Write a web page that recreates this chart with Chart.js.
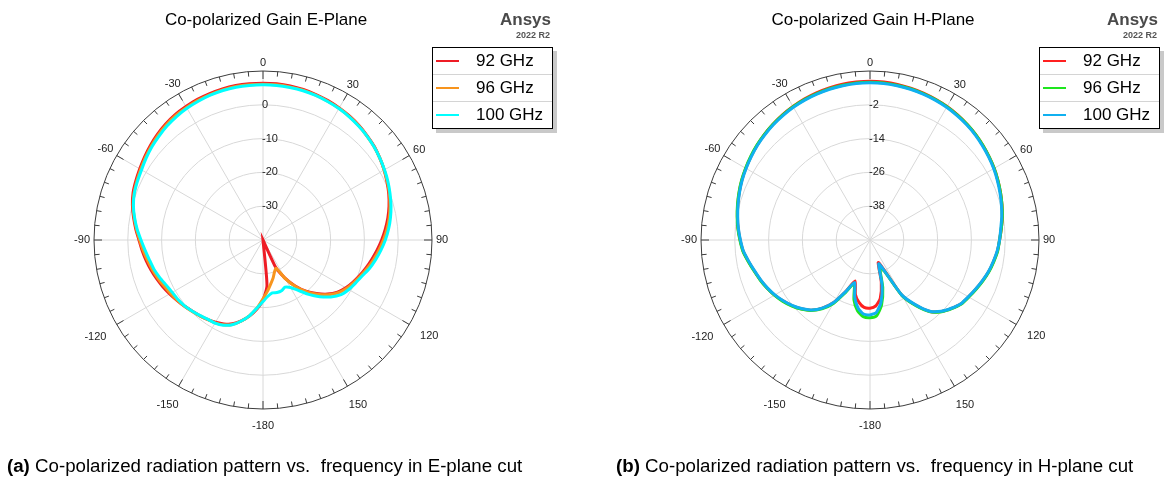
<!DOCTYPE html>
<html>
<head>
<meta charset="utf-8">
<title>Co-polarized Gain</title>
<script src="https://cdn.jsdelivr.net/npm/chart.js@4.4.1/dist/chart.umd.min.js"></script>
<style>
  html, body { margin: 0; padding: 0; background: #fff; }
  body { width: 1165px; height: 479px; position: relative; overflow: hidden;
         font-family: "Liberation Sans", Arial, sans-serif; color: #000; }
  .abs { position: absolute; white-space: pre; }
  .title { font-size: 17px; line-height: 17px; transform: translateX(-50%); }
  .brand { font-size: 17px; line-height: 17px; font-weight: bold; color: #4a4a4a; text-align: right; }
  .release { font-size: 9px; line-height: 9px; font-weight: bold; color: #555; text-align: right; }
  .legend { background: #fff; border: 1px solid #000; box-shadow: 4px 4px 0 #c9c9c9; width: 119px; }
  .legend .row { height: 26px; position: relative; font-size: 17px; line-height: 26px; }
  .legend .row + .row { border-top: 1px solid #d4d4d4; }
  .legend .swatch { position: absolute; left: 3px; top: 12px; width: 23px; height: 2px; }
  .legend .name { position: absolute; left: 43px; top: 0; }
  .caption { font-size: 18.7px; line-height: 19px; }
  canvas { position: absolute; }
</style>
</head>
<body>

<canvas id="chartE" width="440" height="440" style="left:43px;top:20px"></canvas>
<canvas id="chartH" width="440" height="440" style="left:650px;top:20px"></canvas>

<div class="abs title" style="left:266px;top:11px">Co-polarized Gain E-Plane</div>
<div class="abs brand" style="right:614px;top:11px">Ansys</div>
<div class="abs release" style="right:615px;top:31px">2022 R2</div>
<div class="abs legend" id="legendE" style="left:432px;top:47px"></div>

<div class="abs title" style="left:873px;top:11px">Co-polarized Gain H-Plane</div>
<div class="abs brand" style="right:7px;top:11px">Ansys</div>
<div class="abs release" style="right:8px;top:31px">2022 R2</div>
<div class="abs legend" id="legendH" style="left:1039px;top:47px"></div>

<div class="abs caption" style="left:7px;top:456px"><b>(a)</b> Co-polarized radiation pattern vs.  frequency in E-plane cut</div>
<div class="abs caption" style="left:616px;top:456px"><b>(b)</b> Co-polarized radiation pattern vs.  frequency in H-plane cut</div>

<script>
// Theta in degrees, clockwise from broadside, 5 degree steps
const ANGLES = [
  0, 5, 10, 15, 20, 25, 30, 35, 40, 45, 50, 55, 60, 65, 70, 75, 80, 85,
  90, 95, 100, 105, 110, 115, 120, 125, 130, 135, 140, 145, 150, 155, 160, 165, 170, 175,
  -180, -175, -170, -165, -160, -155, -150, -145, -140, -135, -130, -125, -120, -115, -110, -105, -100, -95,
  -90, -85, -80, -75, -70, -65, -60, -55, -50, -45, -40, -35, -30, -25, -20, -15, -10, -5
];
const ANGLE_LABELS = [0, 30, 60, 90, 120, 150, -180, -150, -120, -90, -60, -30];

const FREQS = ['92 GHz', '96 GHz', '100 GHz'];

// Ring values (dB) for each cut
const E_RINGS = [-40, -30, -20, -10, 0, 10];
const H_RINGS = [-50, -38, -26, -14, -2, 10];

// E-plane gain (dB), one value per entry of ANGLES
const E_92 = [
  6.4, 6.4, 6.3, 6.1, 5.8, 5.5, 5.1, 4.7, 4.2, 3.6, 3.0, 2.2, 1.4, 0.5, -0.4, -1.4, -2.5, -3.7,
  -4.9, -6.1, -7.3, -8.4, -9.5, -10.6, -11.7, -13.1, -15.1, -17.6, -20.2, -23.4, -27.0, -31.0, -40.0, -40.0, -40.0, -26.5,
  -22.2, -19.5, -17.2, -15.2, -13.6, -12.6, -11.9, -11.3, -10.8, -10.3, -9.6, -8.9, -8.1, -7.3, -6.5, -5.7, -4.9, -4.1,
  -3.3, -2.2, -1.1, 0.0, 0.9, 1.5, 2.1, 2.8, 3.5, 4.2, 4.8, 5.3, 5.6, 5.9, 6.1, 6.3, 6.4, 6.4
];
const E_96 = [
  6.1, 6.1, 6.0, 5.9, 5.6, 5.3, 5.0, 4.6, 4.1, 3.5, 2.9, 2.2, 1.4, 0.6, -0.2, -1.1, -2.1, -3.2,
  -4.4, -5.6, -6.8, -8.0, -9.2, -10.3, -11.4, -12.8, -14.8, -17.3, -20.0, -23.2, -26.8, -30.8, -30.0, -28.4, -26.8, -24.8,
  -22.6, -19.8, -17.3, -15.2, -13.4, -12.3, -11.7, -11.3, -10.8, -10.2, -9.6, -9.0, -8.4, -7.7, -6.9, -6.1, -5.3, -4.4,
  -3.5, -2.4, -1.3, -0.2, 0.6, 1.2, 1.8, 2.5, 3.2, 3.9, 4.5, 5.0, 5.3, 5.6, 5.8, 6.0, 6.1, 6.1
];
const E_100 = [
  5.9, 5.9, 5.8, 5.7, 5.5, 5.2, 4.9, 4.5, 4.0, 3.5, 2.9, 2.2, 1.5, 0.8, 0.0, -0.8, -1.7, -2.7,
  -3.8, -5.0, -6.2, -7.4, -8.8, -9.8, -10.7, -11.8, -13.8, -16.3, -19.0, -21.8, -23.8, -24.6, -24.0, -23.9, -24.1, -23.3,
  -21.8, -19.8, -17.3, -15.2, -13.3, -12.2, -11.6, -11.4, -10.9, -10.3, -9.7, -9.3, -9.0, -8.4, -7.5, -6.6, -5.9, -5.0,
  -3.9, -2.6, -1.4, -0.3, 0.5, 1.0, 1.5, 2.2, 2.9, 3.5, 4.1, 4.6, 5.0, 5.3, 5.6, 5.8, 5.9, 5.9
];

// H-plane gain (dB)
const H_92 = [
  6.4, 6.3, 6.1, 5.8, 5.5, 5.1, 4.7, 4.2, 3.6, 3.0, 2.3, 1.6, 0.9, 0.1, -0.7, -1.5, -2.3, -3.2,
  -4.0, -4.6, -5.5, -6.4, -7.5, -8.6, -9.6, -10.5, -12.2, -14.1, -16.9, -21.8, -27.5, -38.5, -41.5, -34.5, -29.0, -26.5,
  -25.8, -26.0, -27.5, -30.0, -34.5, -30.0, -24.5, -20.5, -17.5, -15.5, -13.8, -12.3, -10.9, -9.7, -8.6, -7.5, -6.2, -4.8,
  -3.9, -3.0, -2.2, -1.4, -0.6, 0.2, 0.9, 1.6, 2.3, 3.0, 3.6, 4.2, 4.7, 5.2, 5.6, 5.9, 6.2, 6.3
];
const H_96 = [
  6.0, 6.0, 5.8, 5.6, 5.3, 5.0, 4.6, 4.1, 3.6, 3.0, 2.3, 1.6, 0.9, 0.1, -0.7, -1.5, -2.3, -3.2,
  -4.0, -4.5, -5.4, -6.3, -7.4, -8.5, -9.5, -10.4, -12.1, -14.0, -16.7, -21.5, -27.0, -37.5, -40.0, -32.5, -26.5, -23.0,
  -22.4, -22.7, -24.5, -28.0, -33.5, -29.5, -24.0, -20.2, -17.3, -15.3, -13.6, -12.1, -10.8, -9.6, -8.5, -7.4, -6.1, -4.7,
  -3.8, -2.9, -2.1, -1.3, -0.5, 0.3, 1.0, 1.7, 2.4, 3.0, 3.6, 4.1, 4.6, 5.0, 5.3, 5.6, 5.8, 6.0
];
const H_100 = [
  5.8, 5.8, 5.6, 5.4, 5.1, 4.8, 4.4, 3.9, 3.4, 2.8, 2.1, 1.4, 0.7, -0.1, -0.9, -1.7, -2.5, -3.4,
  -4.0, -4.7, -5.6, -6.5, -7.6, -8.7, -9.7, -10.6, -12.3, -14.2, -17.0, -22.0, -27.5, -38.0, -41.0, -33.5, -27.5, -24.2,
  -23.4, -23.6, -25.5, -29.0, -34.0, -30.0, -24.5, -20.5, -17.6, -15.6, -13.9, -12.4, -11.0, -9.8, -8.7, -7.6, -6.3, -4.9,
  -4.0, -3.1, -2.3, -1.5, -0.7, 0.1, 0.8, 1.5, 2.2, 2.8, 3.4, 3.9, 4.4, 4.8, 5.1, 5.4, 5.6, 5.8
];

const E_COLORS = ['#ee1c25', '#f7941d', '#00ffff'];
const H_COLORS = ['#ff2020', '#1ee61e', '#10b0f0'];

const GRID_COLOR = '#d8d8d8';
const DIAL_COLOR = '#3c3c3c';
const LABEL_FONT = '11px "Liberation Sans", Arial, sans-serif';

// Outer dial, 5 degree ticks, angle labels and ring values
const polarDial = {
  id: 'polarDial',
  beforeDatasetsDraw(chart) {
    const s = chart.scales.r;
    const ctx = chart.ctx;
    const R = s.drawingArea;
    const rings = chart.options.plugins.polarDial.rings;

    ctx.save();
    ctx.strokeStyle = DIAL_COLOR;
    ctx.lineWidth = 1;
    ctx.beginPath();
    ctx.arc(s.xCenter, s.yCenter, R, 0, Math.PI * 2);
    ctx.stroke();

    ANGLES.forEach((a, i) => {
      const len = a % 30 === 0 ? 8 : 5;
      const p1 = s.getPointPosition(i, R);
      const p2 = s.getPointPosition(i, R - len);
      ctx.beginPath();
      ctx.moveTo(p1.x, p1.y);
      ctx.lineTo(p2.x, p2.y);
      ctx.stroke();
    });

    // angle labels sit just outside the dial; the lower half hangs a bit further out
    ctx.font = LABEL_FONT;
    ctx.fillStyle = '#222';
    ctx.textAlign = 'center';
    ctx.textBaseline = 'middle';
    ANGLES.forEach((a, i) => {
      if (!ANGLE_LABELS.includes(a)) return;
      const t = a * Math.PI / 180;
      const w = ctx.measureText(String(a)).width;
      const lower = Math.abs(a) > 90;
      const d = R + 4 + (w / 2) * Math.abs(Math.sin(t)) + 4 * Math.abs(Math.cos(t)) + (lower ? 9 : 0);
      const p = s.getPointPosition(i, d);
      ctx.fillText(String(a), p.x, p.y);
    });

    ctx.textAlign = 'left';
    rings.slice(1, -1).forEach(v => {
      const y = s.yCenter - s.getDistanceFromCenterForValue(v);
      ctx.fillText(String(v), s.xCenter - 1, y);
    });
    ctx.restore();
  }
};

function buildLegend(el, colors) {
  FREQS.forEach((f, i) => {
    const row = document.createElement('div');
    row.className = 'row';
    row.innerHTML = '<span class="swatch" style="background:' + colors[i] + '"></span><span class="name">' + f + '</span>';
    el.appendChild(row);
  });
}

function renderPolar(canvasId, rings, series, colors) {
  const ctx = document.getElementById(canvasId);
  return new Chart(ctx, {
    type: 'radar',
    data: {
      labels: ANGLES,
      datasets: series.map((d, i) => ({
        label: FREQS[i],
        data: d,
        borderColor: colors[i],
        backgroundColor: colors[i],
        borderWidth: 3,
        pointRadius: 0,
        fill: false,
        tension: 0.2,
        order: series.length - i,
      })),
    },
    options: {
      responsive: false,
      animation: false,
      devicePixelRatio: 1,
      layout: { padding: 51 },
      plugins: {
        legend: { display: false },
        tooltip: { enabled: false },
        polarDial: { rings },
      },
      scales: {
        r: {
          min: rings[0],
          max: rings[rings.length - 1],
          startAngle: 0,
          afterBuildTicks: sc => { sc.ticks = rings.map(v => ({ value: v })); },
          ticks: { display: false },
          pointLabels: { display: false },
          grid: {
            circular: true,
            color: c => c.tick && c.tick.value === rings[rings.length - 1] ? 'transparent' : GRID_COLOR,
            lineWidth: 1,
          },
          angleLines: {
            color: c => ANGLES[c.index] % 30 === 0 ? GRID_COLOR : 'transparent',
            lineWidth: 1,
          },
        },
      },
    },
    plugins: [polarDial],
  });
}

buildLegend(document.getElementById('legendE'), E_COLORS);
buildLegend(document.getElementById('legendH'), H_COLORS);

renderPolar('chartE', E_RINGS, [E_92, E_96, E_100], E_COLORS);
renderPolar('chartH', H_RINGS, [H_92, H_96, H_100], H_COLORS);
</script>
</body>
</html>
